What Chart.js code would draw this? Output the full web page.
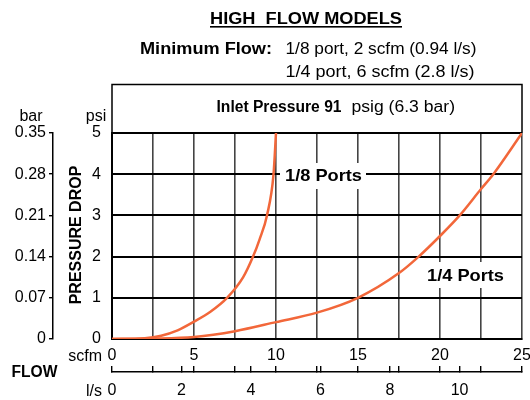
<!DOCTYPE html>
<html>
<head>
<meta charset="utf-8">
<script src="https://cdn.jsdelivr.net/npm/chart.js@4.4.1/dist/chart.umd.min.js"></script>
<style>
html,body{margin:0;padding:0;background:#fff;}
</style>
</head>
<body>
<canvas id="flowChart" width="530" height="400"></canvas>
<script>
// 1/8 port curve (scfm -> psi)
const eighthFlow = [0, 2, 3, 4, 5, 6, 7, 8, 8.6, 9, 9.45, 9.85, 10];
const eighthDrop = [0, 0.02, 0.08, 0.21, 0.42, 0.66, 0.99, 1.5, 2.0, 2.42, 3.0, 4.0, 5.0];

// 1/4 port curve
const quarterFlow = [0, 2.5, 5, 7.5, 10, 12.5, 15, 17.5, 18.7, 20, 21.2, 22.5, 23.25, 25];
const quarterDrop = [0, 0.01, 0.05, 0.19, 0.41, 0.64, 1.0, 1.6, 2.0, 2.5, 3.0, 3.64, 4.0, 5.0];

const scfmTicks = [0, 2.5, 5, 7.5, 10, 12.5, 15, 17.5, 20, 22.5, 25];
const scfmLabels = [0, 5, 10, 15, 20, 25];
const lpsLabels = [0, 2, 4, 6, 8, 10];
const psiTicks = [0, 1, 2, 3, 4, 5];
const barTicks = [0, 0.07, 0.14, 0.21, 0.28, 0.35];

const LPS_PER_SCFM = 0.4719;
const FONT = "'Liberation Sans', Arial, Helvetica, sans-serif";
const curveColor = "#f2673a";

let lpsTicks = scfmTicks.map(v => v * LPS_PER_SCFM).concat(lpsLabels).sort((a, b) => a - b);
lpsTicks = lpsTicks.filter((v, i) => i === 0 || Math.abs(v - lpsTicks[i - 1]) > 1e-6);

// draw text squeezed/stretched to a given width
function fitText(ctx, str, x, y, font, width, align) {
  ctx.save();
  ctx.font = font;
  ctx.textBaseline = "alphabetic";
  ctx.textAlign = "left";
  const w = ctx.measureText(str).width;
  const sx = width ? width / w : 1;
  let left = x;
  if (align === "center") left = x - w * sx / 2;
  if (align === "right") left = x - w * sx;
  ctx.translate(left, y);
  ctx.scale(sx, 1);
  ctx.fillStyle = "#000";
  ctx.fillText(str, 0, 0);
  ctx.restore();
}

const extrasPlugin = {
  id: "extras",
  afterDraw(chart) {
    const ctx = chart.ctx;
    const area = chart.chartArea;

    // box above plot
    ctx.save();
    ctx.strokeStyle = "#000";
    ctx.lineWidth = 1.5;
    ctx.beginPath();
    ctx.moveTo(area.left, area.top);
    ctx.lineTo(area.left, 84.5);
    ctx.lineTo(area.right, 84.5);
    ctx.lineTo(area.right, area.top);
    ctx.stroke();
    ctx.restore();

    // title
    fitText(ctx, "HIGH  FLOW MODELS", 306, 23.5, "bold 16px " + FONT, 192, "center");
    ctx.save();
    ctx.fillStyle = "#000";
    ctx.fillRect(210, 26, 192, 1.6);
    ctx.restore();

    fitText(ctx, "Minimum Flow:", 140, 53.5, "bold 16px " + FONT, 132, "left");
    fitText(ctx, "1/8 port, 2 scfm (0.94 l/s)", 285.5, 53.5, "16px " + FONT, 191, "left");
    fitText(ctx, "1/4 port, 6 scfm (2.8 l/s)", 285.5, 76.5, "16px " + FONT, 189, "left");

    fitText(ctx, "Inlet Pressure 91", 216.5, 112, "bold 16px " + FONT, 125, "left");
    fitText(ctx, "psig (6.3 bar)", 351.5, 112, "16px " + FONT, 103.5, "left");

    // axis captions
    fitText(ctx, "bar", 31, 120.5, "16px " + FONT, 0, "center");
    fitText(ctx, "psi", 96, 120.5, "16px " + FONT, 0, "center");
    fitText(ctx, "scfm", 102, 361, "16px " + FONT, 0, "right");
    fitText(ctx, "l/s", 102, 395.5, "16px " + FONT, 0, "right");
    fitText(ctx, "FLOW", 11.5, 377, "bold 16px " + FONT, 46, "left");

    ctx.save();
    ctx.translate(77, 235);
    ctx.rotate(-Math.PI / 2);
    ctx.font = "bold 16px " + FONT;
    ctx.textAlign = "center";
    ctx.textBaseline = "middle";
    ctx.fillStyle = "#000";
    ctx.fillText("PRESSURE DROP", 0, 0);
    ctx.restore();

    // curve labels on white
    ctx.save();
    ctx.fillStyle = "#fff";
    ctx.fillRect(280, 163, 86, 26);
    ctx.fillRect(423, 262, 85, 26);
    ctx.restore();
    fitText(ctx, "1/8 Ports", 285, 180.5, "bold 17px " + FONT, 77, "left");
    fitText(ctx, "1/4 Ports", 427, 280.5, "bold 17px " + FONT, 77, "left");
  }
};

const tickFont = { family: FONT, size: 16 };

new Chart(document.getElementById("flowChart"), {
  type: "line",
  data: {
    datasets: [
      {
        label: "1/8 Ports",
        data: eighthFlow.map((x, i) => ({ x: x, y: eighthDrop[i] })),
        borderColor: curveColor,
        borderWidth: 2.5,
        pointRadius: 0,
        cubicInterpolationMode: "monotone",
        fill: false,
        xAxisID: "x",
        yAxisID: "y"
      },
      {
        label: "1/4 Ports",
        data: quarterFlow.map((x, i) => ({ x: x, y: quarterDrop[i] })),
        borderColor: curveColor,
        borderWidth: 2.5,
        pointRadius: 0,
        cubicInterpolationMode: "monotone",
        fill: false,
        xAxisID: "x",
        yAxisID: "y"
      }
    ]
  },
  options: {
    responsive: false,
    animation: false,
    devicePixelRatio: 1,
    layout: { padding: { top: 133, right: 8, left: 0, bottom: 0 } },
    plugins: { legend: { display: false }, tooltip: { enabled: false } },
    scales: {
      x: {
        type: "linear",
        position: "bottom",
        weight: 0,
        min: 0,
        max: 25,
        afterBuildTicks: s => { s.ticks = scfmTicks.map(v => ({ value: v })); },
        afterFit: s => { s.height = 33; s.paddingRight = 0; s.paddingLeft = 0; },
        ticks: {
          font: tickFont,
          color: "#000",
          padding: 7,
          autoSkip: false,
          maxRotation: 0,
          callback: v => scfmLabels.includes(v) ? String(v) : ""
        },
        grid: { color: "#444", lineWidth: 1.6, drawTicks: false },
        border: { color: "#000", width: 2 }
      },
      lps: {
        type: "linear",
        position: "bottom",
        weight: 1,
        min: 0,
        max: 25 * LPS_PER_SCFM,
        afterBuildTicks: s => { s.ticks = lpsTicks.map(v => ({ value: v })); },
        afterFit: s => { s.height = 28; s.paddingRight = 0; s.paddingLeft = 0; },
        ticks: {
          font: tickFont,
          color: "#000",
          padding: 15,
          autoSkip: false,
          maxRotation: 0,
          callback: v => {
            const hit = lpsLabels.find(l => Math.abs(l - v) < 1e-6);
            return hit === undefined ? "" : String(hit);
          }
        },
        grid: { drawOnChartArea: false, tickLength: -6, color: "#000", lineWidth: 1.4 },
        border: { color: "#000", width: 1.5 }
      },
      y: {
        type: "linear",
        position: "left",
        weight: 0,
        min: 0,
        max: 5,
        afterBuildTicks: s => { s.ticks = psiTicks.map(v => ({ value: v })); },
        afterFit: s => { s.width = 59; },
        ticks: { font: tickFont, color: "#000", padding: 11 },
        grid: { color: "#000", lineWidth: 2, drawTicks: false },
        border: { color: "#000", width: 2 }
      },
      bar: {
        type: "linear",
        position: "left",
        weight: 1,
        min: 0,
        max: 0.35,
        afterBuildTicks: s => { s.ticks = barTicks.map(v => ({ value: v })); },
        afterFit: s => { s.width = 53; },
        ticks: {
          font: tickFont,
          color: "#000",
          padding: 3,
          callback: v => v === 0 ? "0" : v.toFixed(2)
        },
        grid: { drawOnChartArea: false, tickLength: 4, color: "#000", lineWidth: 1.4 },
        border: { color: "#000", width: 1.5 }
      }
    }
  },
  plugins: [extrasPlugin]
});
</script>
</body>
</html>
